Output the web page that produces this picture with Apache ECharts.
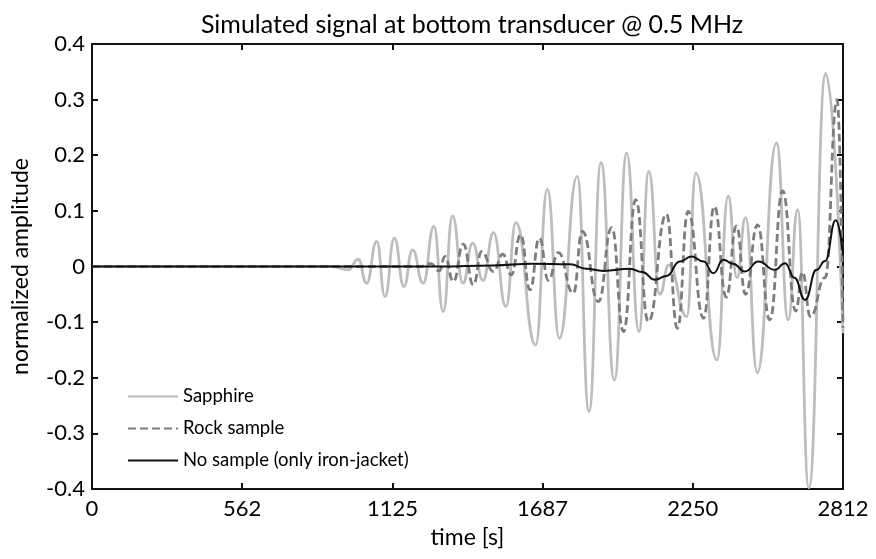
<!DOCTYPE html>
<html>
<head>
    <meta charset="utf-8">
    <title>Simulated signal</title>
    <script src="https://cdn.jsdelivr.net/npm/echarts@6/dist/echarts.min.js"></script>
    <style>
        html, body { margin: 0; padding: 0; background: #fff; }
    </style>
</head>
<body>
<div id="main" style="width: 876px;height:559px;"></div>
<script type="text/javascript">
    // tick labels of the time axis (the axis spans 0 .. 2812, five equal steps)
    const xMax = 2812;
    const xTickLabels = ['0', '562', '1125', '1687', '2250', '2812'];

    // Sapphire: extrema of the wave
    const sapphireT = [0, 900, 959, 997, 1028, 1066, 1097, 1132, 1168, 1200, 1240, 1280, 1315, 1350,
        1389, 1425, 1464, 1503, 1550, 1587, 1661, 1705, 1750, 1817, 1861, 1906, 1956, 2002, 2048,
        2085, 2126, 2160, 2227, 2261, 2340, 2382, 2415, 2447, 2491, 2563, 2607, 2642, 2684, 2747, 2812];
    const sapphireV = [0, 0, -0.006, 0.013, -0.030, 0.045, -0.054, 0.051, -0.036, 0.030, -0.030, 0.072, -0.081, 0.091,
        -0.030, 0.042, -0.025, 0.061, -0.072, 0.079, -0.141, 0.139, -0.129, 0.162, -0.261, 0.187, -0.204, 0.204, -0.117,
        0.171, -0.05, 0.003, -0.09, 0.168, -0.168, 0.127, -0.02, 0.088, -0.191, 0.222, -0.096, 0.102, -0.398, 0.347, -0.12];

    // Rock sample
    const rockT = [0, 1230, 1268, 1300, 1322, 1353, 1390, 1428, 1459, 1503, 1538, 1570, 1605, 1640, 1675,
        1709, 1746, 1802, 1836, 1896, 1946, 1990, 2036, 2083, 2151, 2192, 2232, 2290, 2330, 2375, 2413,
        2447, 2492, 2538, 2586, 2635, 2660, 2690, 2745, 2790, 2812];
    const rockV = [0, 0, 0.005, -0.008, 0.018, -0.027, 0.040, -0.033, 0.027, -0.009, 0.022, -0.015, 0.057, -0.042, 0.051,
        -0.025, 0.025, -0.048, 0.063, -0.063, 0.070, -0.117, 0.120, -0.099, 0.094, -0.111, 0.099, -0.093, 0.108, -0.055, 0.073,
        -0.05, 0.075, -0.096, 0.136, -0.08, -0.01, -0.09, -0.02, 0.30, -0.11];

    // No sample (only iron-jacket)
    const jacketT = [0, 1300, 1500, 1650, 1790, 1850, 1915, 2014, 2060, 2108, 2151, 2201, 2245, 2290, 2327,
        2364, 2400, 2445, 2495, 2557, 2595, 2630, 2670, 2713, 2745, 2785, 2812];
    const jacketV = [0, 0, 0.002, 0.005, 0.004, -0.004, -0.008, -0.004, -0.010, -0.024, -0.017, 0.009, 0.018, 0.009, -0.012,
        0.012, 0.005, -0.009, 0.009, -0.006, 0.006, -0.02, -0.060, -0.006, 0.01, 0.083, 0.02];

    function pairs(ts, vs) {
        return ts.map(function (t, i) { return [t, vs[i]]; });
    }

    let myChart = echarts.init(document.getElementById('main'));
    const font = 'Lato, "Noto Sans", sans-serif';
    const xTicks = xTickLabels.map(function (s, i) { return xMax * i / 5; });

    const boxLine = { show: true, onZero: false, lineStyle: { color: '#111', width: 2 } };
    const innerTick = { show: true, inside: true, length: 6, lineStyle: { color: '#111', width: 2 } };

    myChart.setOption({
        animation: false,
        title: {
            text: 'Simulated signal at bottom transducer @ 0.5 MHz',
            left: 467, top: 7, textAlign: 'center',
            textStyle: { fontFamily: font, fontSize: 25, fontWeight: 'normal', color: '#000' }
        },
        legend: {
            orient: 'vertical',
            left: 122, top: 382,
            itemWidth: 50, itemHeight: 14, itemGap: 13,
            itemStyle: { opacity: 0 },
            textStyle: { fontFamily: font, fontSize: 18.5, color: '#000' },
            data: ['Sapphire', 'Rock sample', 'No sample (only iron-jacket)']
        },
        grid: { left: 92, right: 33, top: 44, bottom: 70 },
        xAxis: [{
            type: 'value', min: 0, max: xMax,
            name: 'time [s]', nameLocation: 'middle', nameGap: 37,
            nameTextStyle: { fontFamily: font, fontSize: 23, color: '#000' },
            axisLine: boxLine,
            axisTick: Object.assign({ customValues: xTicks }, innerTick),
            axisLabel: {
                customValues: xTicks, margin: 9,
                fontFamily: font, fontSize: 22, color: '#000',
                formatter: function (v) { return String(Math.round(v)); }
            },
            splitLine: { show: false }
        }, {
            type: 'value', min: 0, max: xMax, position: 'top',
            axisLine: boxLine,
            axisTick: Object.assign({ customValues: xTicks }, innerTick),
            axisLabel: { show: false },
            splitLine: { show: false }
        }],
        yAxis: [{
            type: 'value', min: -0.4, max: 0.4, interval: 0.1,
            name: 'normalized amplitude', nameLocation: 'middle', nameGap: 60,
            nameTextStyle: { fontFamily: font, fontSize: 23, color: '#000' },
            axisLine: boxLine,
            axisTick: innerTick,
            axisLabel: {
                margin: 7, fontFamily: font, fontSize: 22, color: '#000',
                formatter: function (v) { return String(+v.toFixed(1)); }
            },
            splitLine: { show: false }
        }, {
            type: 'value', min: -0.4, max: 0.4, interval: 0.1, position: 'right',
            axisLine: boxLine,
            axisTick: innerTick,
            axisLabel: { show: false },
            splitLine: { show: false }
        }],
        series: [{
            name: 'Sapphire', type: 'line',
            smooth: 0.5, smoothMonotone: 'x', symbol: 'none',
            lineStyle: { color: '#bdbdbd', width: 2.8 },
            itemStyle: { color: '#bdbdbd' },
            data: pairs(sapphireT, sapphireV)
        }, {
            name: 'Rock sample', type: 'line',
            smooth: 0.5, smoothMonotone: 'x', symbol: 'none',
            lineStyle: { color: '#7d7d7d', width: 2.8, type: [8, 4] },
            itemStyle: { color: '#7d7d7d' },
            data: pairs(rockT, rockV)
        }, {
            name: 'No sample (only iron-jacket)', type: 'line',
            smooth: 0.5, smoothMonotone: 'x', symbol: 'none',
            lineStyle: { color: '#111111', width: 2 },
            itemStyle: { color: '#111111' },
            data: pairs(jacketT, jacketV)
        }]
    });
</script>
</body>
</html>
